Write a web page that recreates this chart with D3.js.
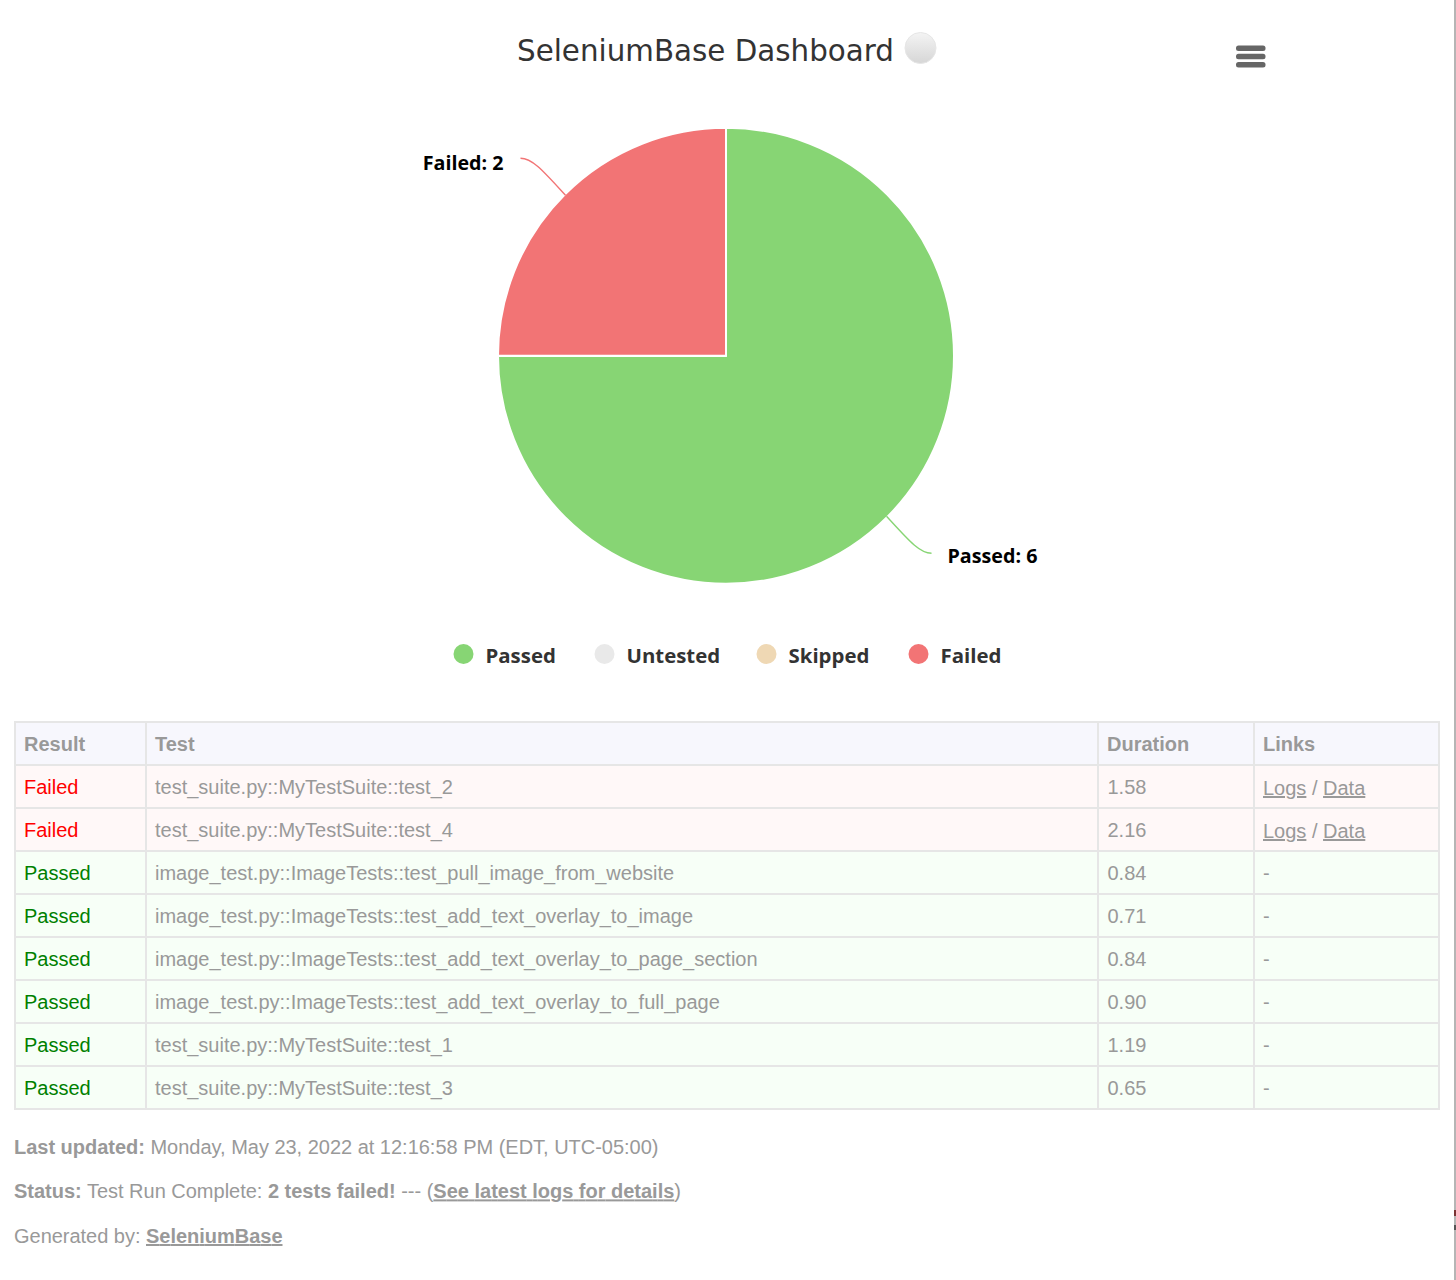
<!DOCTYPE html>
<html>
<head>
  <meta charset="utf-8">
  <title>SeleniumBase Dashboard</title>
  <script src="https://d3js.org/d3.v7.min.js"></script>
  <style>
    html, body { margin: 0; padding: 0; background: #fff; overflow: hidden; }
    svg { display: block; }
    .tbl text, .foot text { font-family: "Liberation Sans", Arial, sans-serif; font-size: 20px; fill: #999; }
    .hd text { font-weight: bold; }
    .lg text { font-family: "Open Sans", sans-serif; font-size: 20.4px; font-weight: 700; fill: #333; }
  </style>
</head>
<body>
<script type="text/javascript">

  // chart data
  var title = "SeleniumBase Dashboard";
  var categories = ["Passed", "Untested", "Skipped", "Failed"];
  var counts = [6, 0, 0, 2];
  var colors = ["#87d574", "#e9e9e9", "#efd8b4", "#f27475"];

  // table data
  var columns = ["Result", "Test", "Duration", "Links"];
  var results = ["Failed", "Failed", "Passed", "Passed", "Passed", "Passed", "Passed", "Passed"];
  var tests = [
    "test_suite.py::MyTestSuite::test_2",
    "test_suite.py::MyTestSuite::test_4",
    "image_test.py::ImageTests::test_pull_image_from_website",
    "image_test.py::ImageTests::test_add_text_overlay_to_image",
    "image_test.py::ImageTests::test_add_text_overlay_to_page_section",
    "image_test.py::ImageTests::test_add_text_overlay_to_full_page",
    "test_suite.py::MyTestSuite::test_1",
    "test_suite.py::MyTestSuite::test_3"
  ];
  var durations = ["1.58", "2.16", "0.84", "0.71", "0.84", "0.90", "1.19", "0.65"];
  var hasLinks = [true, true, false, false, false, false, false, false];

  var w = 1456, h = 1280;
  var svg = d3.select("body").append("svg").attr("width", w).attr("height", h);

  // page edge on the right of the screenshot
  svg.append("rect").attr("x", 1454).attr("y", 0).attr("width", 2).attr("height", h).attr("fill", "#b5b5b5");
  svg.append("rect").attr("x", 1454).attr("y", 1210).attr("width", 2).attr("height", 6).attr("fill", "#7a3434");
  svg.append("rect").attr("x", 1454).attr("y", 1225).attr("width", 2).attr("height", 5).attr("fill", "#555");

  //Title
  svg.append("text").text(title)
     .attr("x", 517).attr("y", 61)
     .attr("font-family", "'DejaVu Sans', sans-serif")
     .attr("font-size", 30).attr("fill", "#333")
     .attr("textLength", 377).attr("lengthAdjust", "spacingAndGlyphs");

  // the white circle emoji next to the title
  var grad = svg.append("defs").append("linearGradient").attr("id", "ball")
     .attr("x1", 0).attr("y1", 0).attr("x2", 0).attr("y2", 1);
  grad.append("stop").attr("offset", "0%").attr("stop-color", "#f4f4f4");
  grad.append("stop").attr("offset", "100%").attr("stop-color", "#d6d6d6");
  svg.append("circle").attr("cx", 920.5).attr("cy", 48).attr("r", 15.5)
     .attr("fill", "url(#ball)").attr("stroke", "#e6e6e6");

  // menu button
  svg.selectAll("rect.menu").data([0, 1, 2]).enter().append("rect")
     .attr("class", "menu")
     .attr("x", 1236).attr("width", 29.5).attr("height", 5.5).attr("rx", 2.5)
     .attr("y", function(d){ return 45.5 + d * 8.3; })
     .attr("fill", "#666");

  //Pie
  var cx = 726, cy = 355.75, radius = 228;
  var pieData = d3.pie().sort(null)(counts);
  var arc = d3.arc().innerRadius(0).outerRadius(radius);
  var edge = d3.arc().innerRadius(radius - 1).outerRadius(radius - 1);
  var pieG = svg.append("g").attr("transform", "translate(" + cx + "," + cy + ")");

  pieG.selectAll("path.slice").data(pieData).enter().append("path")
     .attr("class", "slice")
     .attr("d", arc)
     .attr("fill", function(d, i){ return colors[i]; })
     .attr("stroke", "#fff").attr("stroke-width", 2).attr("stroke-linejoin", "round");

  // data labels with their connectors, only for slices that have a value
  var labelled = pieData.filter(function(d){ return d.value > 0; });
  pieG.selectAll("path.conn").data(labelled).enter().append("path")
     .attr("class", "conn")
     .attr("fill", "none").attr("stroke-width", 1.4)
     .attr("stroke", function(d){ return colors[d.index]; })
     .attr("d", function(d){
        var p = edge.centroid(d), s = p[0] < 0 ? -1 : 1, v = p[1] < 0 ? -1 : 1;
        var path = d3.path();
        path.moveTo(p[0], p[1]);
        path.bezierCurveTo(p[0] + s * 22, p[1] + v * 24, p[0] + s * 33, p[1] + v * 37, p[0] + s * 45, p[1] + v * 37);
        return path.toString();
     });
  pieG.selectAll("text").data(labelled).enter().append("text")
     .text(function(d){ return categories[d.index] + ": " + d.value; })
     .attr("font-family", "'Open Sans', sans-serif")
     .attr("font-size", 19.7).attr("font-weight", 700).attr("fill", "#000")
     .attr("text-anchor", function(d){ return edge.centroid(d)[0] < 0 ? "end" : "start"; })
     .attr("x", function(d){ var p = edge.centroid(d); return p[0] + (p[0] < 0 ? -62 : 61); })
     .attr("y", function(d){ var p = edge.centroid(d); return p[1] + (p[1] < 0 ? -25 : 47); });

  //Legend
  var legendX = d3.scaleOrdinal().domain(categories).range([463.5, 604.5, 766.5, 918.5]);
  var lg = svg.selectAll("g.lg").data(categories).enter().append("g")
     .attr("class", "lg")
     .attr("transform", function(d){ return "translate(" + legendX(d) + ",654)"; });
  lg.append("circle").attr("r", 10).attr("fill", function(d, i){ return colors[i]; });
  lg.append("text").text(function(d){ return d; }).attr("x", 22).attr("y", 9);

  //Table
  var colEdge = d3.scaleOrdinal().domain(columns).range([15, 146, 1098, 1254]);
  var tableRight = 1439;
  var rowNames = ["head"].concat(d3.range(results.length));
  var rowY = d3.scaleBand().domain(rowNames).range([722, 1109]);
  var tbl = svg.append("g").attr("class", "tbl");

  var rowBg = function(d){
    if (d === "head") return "#f7f7fd";
    return results[d] === "Failed" ? "#fff8f8" : "#f7fff7";
  };
  tbl.selectAll("rect.bg").data(rowNames).enter().append("rect")
     .attr("class", "bg")
     .attr("x", colEdge("Result")).attr("width", tableRight - colEdge("Result"))
     .attr("y", function(d){ return rowY(d); })
     .attr("height", rowY.bandwidth())
     .attr("fill", rowBg);

  // grid
  var gridColor = "#e6e6e6";
  tbl.selectAll("line.h").data(rowNames.concat(["end"])).enter().append("line")
     .attr("class", "h")
     .attr("x1", 14).attr("x2", tableRight + 1)
     .attr("y1", function(d){ return d === "end" ? rowY.range()[1] : rowY(d); })
     .attr("y2", function(d){ return d === "end" ? rowY.range()[1] : rowY(d); })
     .attr("stroke", gridColor).attr("stroke-width", 2);
  tbl.selectAll("line.v").data(columns.concat(["end"])).enter().append("line")
     .attr("class", "v")
     .attr("x1", function(d){ return d === "end" ? tableRight : colEdge(d); })
     .attr("x2", function(d){ return d === "end" ? tableRight : colEdge(d); })
     .attr("y1", 721).attr("y2", 1110)
     .attr("stroke", gridColor).attr("stroke-width", 2);

  var textX = function(c){ return colEdge(c) + 9; };
  var baseY = function(d){ return rowY(d) + 29; };

  tbl.append("g").attr("class", "hd").selectAll("text").data(columns).enter().append("text")
     .text(function(d){ return d; })
     .attr("x", textX).attr("y", baseY("head"));

  var rows = tbl.selectAll("g.row").data(d3.range(results.length)).enter().append("g").attr("class", "row");
  rows.append("text").text(function(d){ return results[d]; })
     .attr("x", textX("Result")).attr("y", baseY)
     .style("fill", function(d){ return results[d] === "Failed" ? "#ff0000" : "#008000"; });
  rows.append("text").text(function(d){ return tests[d]; }).attr("x", textX("Test")).attr("y", baseY);
  rows.append("text").text(function(d){ return durations[d]; }).attr("x", textX("Duration") + 0.5).attr("y", baseY);
  var linkCell = rows.append("text").attr("x", textX("Links"))
     .attr("y", function(d){ return baseY(d) + (hasLinks[d] ? 1 : 0); });
  linkCell.filter(function(d){ return !hasLinks[d]; }).text("-");
  var withLinks = linkCell.filter(function(d){ return hasLinks[d]; });
  withLinks.append("tspan").text("Logs").attr("text-decoration", "underline");
  withLinks.append("tspan").text(" / ");
  withLinks.append("tspan").text("Data").attr("text-decoration", "underline");

  //Footer
  var footLines = [
    [["Last updated:", "b"], [" Monday, May 23, 2022 at 12:16:58 PM (EDT, UTC-05:00)", ""]],
    [["Status:", "b"], [" Test Run Complete: ", ""], ["2 tests failed!", "b"], [" --- (", ""], ["See latest logs for details", "bu"], [")", ""]],
    [["Generated by: ", ""], ["SeleniumBase", "bu"]]
  ];
  var footY = d3.scalePoint().domain(d3.range(footLines.length)).range([1153.8, 1243]);
  svg.append("g").attr("class", "foot").selectAll("text").data(footLines).enter().append("text")
     .attr("x", 14).attr("y", function(d, i){ return footY(i); })
     .attr("textLength", function(d, i){ return [644.5, 667, 268.5][i]; })
     .selectAll("tspan").data(function(d){ return d; }).enter().append("tspan")
     .text(function(d){ return d[0]; })
     .attr("font-weight", function(d){ return d[1].indexOf("b") >= 0 ? "bold" : "normal"; })
     .attr("text-decoration", function(d){ return d[1].indexOf("u") >= 0 ? "underline" : "none"; });

</script>
</body>
</html>
